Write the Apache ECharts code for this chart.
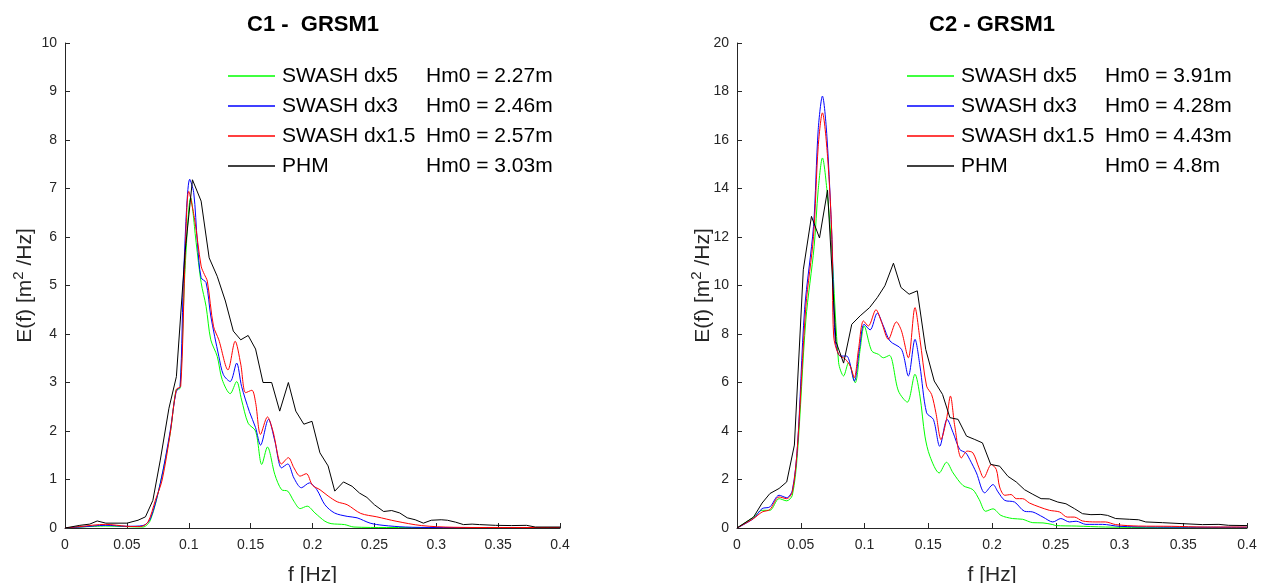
<!DOCTYPE html>
<html><head><meta charset="utf-8">
<script src="https://cdn.jsdelivr.net/npm/echarts@6/dist/echarts.min.js"></script>
<style>
html,body{margin:0;padding:0;background:#fff;overflow:hidden;}
#wrap{position:relative;width:1261px;height:583px;}
#c1{position:absolute;left:0;top:0;width:630px;height:583px;}
#c2{position:absolute;left:630px;top:0;width:631px;height:583px;}
</style></head>
<body><div id="wrap"><div id="c1"></div><div id="c2"></div></div>
<script>
// ---------- DATA ----------
const seriesNames = ['SWASH dx5', 'SWASH dx3', 'SWASH dx1.5', 'PHM'];
const hm0C1 = ['2.27', '2.46', '2.57', '3.03'];
const hm0C2 = ['3.91', '4.28', '4.43', '4.8'];
const xTicks = [0, 0.05, 0.1, 0.15, 0.2, 0.25, 0.3, 0.35, 0.4];

// C1 - GRSM1
const c1_dx5_f = [0, 0.033, 0.063, 0.069, 0.077, 0.085, 0.0898, 0.093, 0.097, 0.1016, 0.106, 0.110, 0.114, 0.1178, 0.123, 0.127, 0.1335, 0.1387, 0.1427, 0.148, 0.154, 0.159, 0.1636, 0.1696, 0.175, 0.180, 0.185, 0.190, 0.1957, 0.202, 0.210, 0.215, 0.226, 0.2335, 0.26, 0.3, 0.4];
const c1_dx5_E = [0, 0.04, 0.02, 0.16, 0.92, 1.95, 2.85, 2.88, 5.33, 6.81, 5.88, 5.06, 4.57, 3.88, 3.54, 3.06, 2.77, 3.02, 2.64, 2.16, 2.0, 1.31, 1.67, 1.1, 0.79, 0.76, 0.55, 0.40, 0.45, 0.31, 0.14, 0.09, 0.07, 0.02, 0.01, 0.01, 0.01];

const c1_dx3_f = [0, 0.012, 0.033, 0.05, 0.063, 0.069, 0.077, 0.085, 0.0898, 0.093, 0.096, 0.1008, 0.104, 0.107, 0.110, 0.114, 0.1178, 0.1243, 0.128, 0.1335, 0.1387, 0.1427, 0.149, 0.154, 0.158, 0.1644, 0.1696, 0.175, 0.180, 0.185, 0.191, 0.1975, 0.2035, 0.210, 0.2178, 0.228, 0.236, 0.2466, 0.257, 0.275, 0.3, 0.35, 0.4];
const c1_dx3_E = [0, 0.02, 0.055, 0.035, 0.05, 0.19, 0.92, 2.0, 2.81, 2.92, 5.33, 7.19, 6.92, 5.88, 5.16, 5.06, 4.37, 3.54, 3.16, 3.02, 3.4, 2.92, 2.4, 2.07, 1.71, 2.24, 1.79, 1.24, 1.32, 1.03, 0.83, 0.93, 0.79, 0.48, 0.31, 0.24, 0.21, 0.10, 0.055, 0.02, 0.01, 0.01, 0.01];

const c1_dx15_f = [0, 0.012, 0.033, 0.05, 0.061, 0.067, 0.073, 0.0785, 0.085, 0.090, 0.0935, 0.097, 0.100, 0.1047, 0.110, 0.1126, 0.115, 0.120, 0.1243, 0.1317, 0.1375, 0.142, 0.146, 0.151, 0.154, 0.158, 0.1636, 0.168, 0.175, 0.1805, 0.185, 0.190, 0.195, 0.200, 0.206, 0.2126, 0.220, 0.228, 0.239, 0.252, 0.2675, 0.288, 0.314, 0.35, 0.4];
const c1_dx15_E = [0, 0.03, 0.075, 0.035, 0.03, 0.12, 0.57, 0.99, 1.95, 2.86, 2.92, 5.54, 6.94, 6.37, 5.4, 5.23, 5.09, 4.16, 3.88, 3.26, 3.85, 3.38, 2.79, 2.84, 2.59, 1.93, 2.29, 2.0, 1.32, 1.45, 1.24, 1.07, 1.12, 0.88, 0.79, 0.66, 0.54, 0.48, 0.30, 0.23, 0.14, 0.05, 0.015, 0.01, 0.01];

const c1_phm_f = [0, 0.012, 0.02, 0.026, 0.033, 0.05, 0.059, 0.065, 0.071, 0.077, 0.084, 0.090, 0.097, 0.103, 0.110, 0.1165, 0.123, 0.1296, 0.136, 0.142, 0.148, 0.154, 0.160, 0.167, 0.1735, 0.1805, 0.1865, 0.193, 0.1996, 0.206, 0.2126, 0.218, 0.225, 0.232, 0.238, 0.244, 0.250, 0.2575, 0.264, 0.2705, 0.2766, 0.283, 0.2896, 0.296, 0.304, 0.309, 0.3157, 0.322, 0.329, 0.335, 0.348, 0.361, 0.373, 0.38, 0.40];
const c1_phm_E = [0, 0.055, 0.08, 0.145, 0.10, 0.10, 0.16, 0.23, 0.57, 1.4, 2.47, 3.12, 5.68, 7.18, 6.74, 5.57, 5.19, 4.68, 4.06, 3.88, 3.97, 3.69, 3.0, 3.0, 2.41, 3.0, 2.41, 2.14, 2.2, 1.55, 1.28, 0.76, 0.95, 0.86, 0.72, 0.63, 0.48, 0.34, 0.36, 0.31, 0.21, 0.17, 0.10, 0.16, 0.17, 0.16, 0.12, 0.07, 0.08, 0.07, 0.055, 0.05, 0.055, 0.02, 0.02];

// C2 - GRSM1
const c2_dx5_f = [0, 0.013, 0.0197, 0.0258, 0.033, 0.039, 0.0434, 0.0474, 0.054, 0.0605, 0.0637, 0.067, 0.071, 0.0745, 0.0797, 0.0836, 0.0875, 0.0927, 0.0966, 0.0997, 0.1057, 0.111, 0.1148, 0.1195, 0.1266, 0.1336, 0.1396, 0.1435, 0.1474, 0.1513, 0.1586, 0.1643, 0.1695, 0.1773, 0.185, 0.190, 0.195, 0.2008, 0.207, 0.216, 0.224, 0.232, 0.24, 0.2477, 0.25, 0.266, 0.289, 0.33, 0.4];
const c2_dx5_E = [0, 0.45, 0.73, 0.73, 1.21, 1.12, 1.35, 3.07, 8.58, 11.6, 13.95, 15.26, 13.68, 11.33, 6.82, 6.27, 6.82, 5.99, 7.37, 8.33, 7.3, 7.16, 7.02, 7.12, 5.65, 5.19, 6.34, 5.44, 3.79, 2.96, 2.27, 2.71, 2.27, 1.75, 1.58, 1.17, 0.69, 0.79, 0.52, 0.39, 0.36, 0.22, 0.21, 0.14, 0.10, 0.08, 0.04, 0.015, 0.015];

const c2_dx3_f = [0, 0.013, 0.0197, 0.0258, 0.033, 0.039, 0.0434, 0.0474, 0.053, 0.06, 0.0637, 0.067, 0.0705, 0.0745, 0.077, 0.081, 0.086, 0.092, 0.096, 0.0997, 0.1044, 0.110, 0.1148, 0.12, 0.129, 0.1344, 0.1396, 0.1435, 0.1487, 0.154, 0.159, 0.1648, 0.1695, 0.1747, 0.1794, 0.1826, 0.1878, 0.1943, 0.2008, 0.2047, 0.21, 0.2177, 0.2255, 0.232, 0.24, 0.2477, 0.254, 0.2607, 0.266, 0.2737, 0.2867, 0.2997, 0.328, 0.4];
const c2_dx3_E = [0, 0.39, 0.8, 0.87, 1.35, 1.25, 1.56, 3.35, 9.0, 12.44, 16.43, 17.81, 16.16, 11.89, 7.78, 7.09, 7.09, 6.06, 7.37, 8.4, 8.17, 8.86, 8.33, 7.71, 7.37, 6.27, 7.78, 6.68, 4.75, 4.48, 3.37, 4.48, 3.93, 3.24, 3.1, 2.82, 2.27, 1.45, 1.79, 1.49, 1.14, 1.07, 0.69, 0.66, 0.45, 0.25, 0.39, 0.25, 0.28, 0.15, 0.15, 0.07, 0.04, 0.03];

const c2_dx15_f = [0, 0.013, 0.0197, 0.0258, 0.033, 0.039, 0.0434, 0.0474, 0.054, 0.06, 0.0637, 0.067, 0.071, 0.0745, 0.0758, 0.0797, 0.085, 0.0888, 0.092, 0.0953, 0.0992, 0.103, 0.109, 0.1135, 0.1187, 0.125, 0.129, 0.1344, 0.1396, 0.1435, 0.1487, 0.1526, 0.156, 0.160, 0.1643, 0.1674, 0.1708, 0.176, 0.1805, 0.185, 0.1898, 0.1935, 0.1995, 0.2034, 0.206, 0.21, 0.215, 0.219, 0.224, 0.2294, 0.237, 0.245, 0.253, 0.259, 0.2646, 0.271, 0.2815, 0.289, 0.297, 0.315, 0.341, 0.367, 0.4];
const c2_dx15_E = [0, 0.39, 0.66, 0.76, 1.28, 1.21, 1.49, 3.35, 9.13, 12.02, 15.74, 17.12, 15.33, 11.89, 7.92, 7.16, 6.96, 6.68, 6.2, 7.37, 8.54, 8.33, 9.0, 8.47, 7.78, 8.5, 8.13, 7.02, 9.09, 7.78, 5.85, 5.51, 4.75, 3.65, 4.48, 5.44, 4.2, 2.89, 3.17, 3.1, 2.48, 2.07, 2.62, 2.41, 1.69, 1.35, 1.38, 1.21, 1.21, 1.03, 0.87, 0.73, 0.66, 0.45, 0.45, 0.29, 0.25, 0.25, 0.14, 0.08, 0.07, 0.04, 0.04];

const c2_phm_f = [0, 0.013, 0.0197, 0.0258, 0.033, 0.039, 0.045, 0.052, 0.0584, 0.0647, 0.071, 0.0776, 0.0836, 0.090, 0.0966, 0.104, 0.110, 0.116, 0.1227, 0.1286, 0.135, 0.1414, 0.148, 0.1547, 0.1612, 0.167, 0.1734, 0.18, 0.1865, 0.1925, 0.199, 0.206, 0.2125, 0.219, 0.2255, 0.232, 0.2385, 0.245, 0.2516, 0.258, 0.2646, 0.271, 0.2776, 0.2854, 0.2906, 0.297, 0.3076, 0.315, 0.3206, 0.3336, 0.349, 0.365, 0.378, 0.3857, 0.4];
const c2_phm_E = [0, 0.45, 1.03, 1.42, 1.63, 1.9, 3.42, 10.65, 12.85, 11.96, 13.93, 7.69, 6.8, 8.4, 8.75, 9.09, 9.5, 9.99, 10.92, 9.92, 9.64, 9.78, 7.37, 6.06, 5.51, 4.55, 4.48, 3.79, 3.65, 3.51, 2.62, 2.55, 2.13, 1.9, 1.58, 1.39, 1.21, 1.2, 1.07, 1.0, 0.8, 0.59, 0.55, 0.56, 0.52, 0.39, 0.36, 0.34, 0.25, 0.22, 0.18, 0.14, 0.15, 0.11, 0.10];

// ---------- CHART ----------
const FONT = "'Liberation Sans', Arial, sans-serif";
const TXT = '#262626';
const colors = ['#00ff00', '#0000ff', '#ff0000', '#000000'];
const zip = (f, e) => f.map((v, i) => [v, e[i]]);

function build(el, cfg) {
  const chart = echarts.init(el, null, {renderer: 'canvas'});
  const hm = {};
  seriesNames.forEach((n, i) => hm[n] = cfg.hm0[i]);
  const series = cfg.data.map((d, i) => ({
    name: seriesNames[i],
    type: 'line',
    data: zip(d[0], d[1]),
    showSymbol: false,
    smooth: i < 3 ? 0.3 : false,
    lineStyle: {width: 1, color: colors[i]},
    itemStyle: {color: colors[i]},
    z: 2 + i,
    animation: false
  }));
  chart.setOption({
    animation: false,
    textStyle: {fontFamily: FONT},
    title: {
      text: cfg.title, left: cfg.titleX, textAlign: 'center', top: 9,
      textStyle: {fontFamily: FONT, fontWeight: 'bold', fontSize: 22, color: '#000'}
    },
    legend: {
      orient: 'vertical', left: cfg.legendX, top: 65, padding: 0, itemGap: 8,
      icon: 'rect', itemWidth: 47, itemHeight: 1.5,
      data: seriesNames,
      formatter: n => '{n|' + n + '}{h|Hm0 = ' + hm[n] + 'm}',
      textStyle: {
        fontFamily: FONT, fontSize: 21, color: '#000', lineHeight: 22,
        rich: {
          n: {fontFamily: FONT, fontSize: 21, color: '#000', width: 144, lineHeight: 22, padding: [0, 0, 0, 2]},
          h: {fontFamily: FONT, fontSize: 21, color: '#000', lineHeight: 22}
        }
      }
    },
    grid: {left: cfg.gridLeft, right: cfg.gridRight, top: 43, bottom: 55,
      containLabel: false, outerBoundsMode: 'none'},
    xAxis: {
      type: 'value', min: 0, max: 0.4, interval: 0.05,
      name: 'f [Hz]', nameLocation: 'middle', nameGap: 37, nameMoveOverlap: false,
      nameTextStyle: {fontFamily: FONT, fontSize: 21, color: TXT},
      axisLine: {onZero: false, lineStyle: {color: TXT, width: 1}},
      axisTick: {inside: true, length: 5, lineStyle: {color: TXT}},
      axisLabel: {fontFamily: FONT, fontSize: 14, color: TXT, margin: 10,
        formatter: v => String(+v.toFixed(2))},
      splitLine: {show: false}
    },
    yAxis: {
      type: 'value', min: 0, max: cfg.yMax, interval: cfg.yInt,
      name: '{a|E(f) [m}{s|2}{a| /Hz]}', nameLocation: 'middle', nameGap: cfg.nameGap, nameRotate: 90,
      nameMoveOverlap: false,
      nameTextStyle: {fontFamily: FONT, fontSize: 21, color: TXT,
        rich: {
          a: {fontFamily: FONT, fontSize: 21, color: TXT, lineHeight: 26},
          s: {fontFamily: FONT, fontSize: 15, color: TXT, lineHeight: 26, padding: [0, 0, 12, 0]}
        }},
      axisLine: {show: true, lineStyle: {color: TXT, width: 1}},
      axisTick: {show: true, inside: true, length: 5, lineStyle: {color: TXT}},
      axisLabel: {fontFamily: FONT, fontSize: 14, color: TXT, margin: 8},
      splitLine: {show: false}
    },
    series: series
  });
}

build(document.getElementById('c1'), {
  title: 'C1 -  GRSM1', titleX: 308, legendX: 228, hm0: hm0C1,
  gridLeft: 65, gridRight: 70, yMax: 10, yInt: 1, nameGap: 27,
  data: [[c1_dx5_f, c1_dx5_E], [c1_dx3_f, c1_dx3_E], [c1_dx15_f, c1_dx15_E], [c1_phm_f, c1_phm_E]]
});
build(document.getElementById('c2'), {
  title: 'C2 - GRSM1', titleX: 357, legendX: 277, hm0: hm0C2,
  gridLeft: 107, gridRight: 14, yMax: 20, yInt: 2, nameGap: 21,
  data: [[c2_dx5_f, c2_dx5_E], [c2_dx3_f, c2_dx3_E], [c2_dx15_f, c2_dx15_E], [c2_phm_f, c2_phm_E]]
});
</script></body></html>
